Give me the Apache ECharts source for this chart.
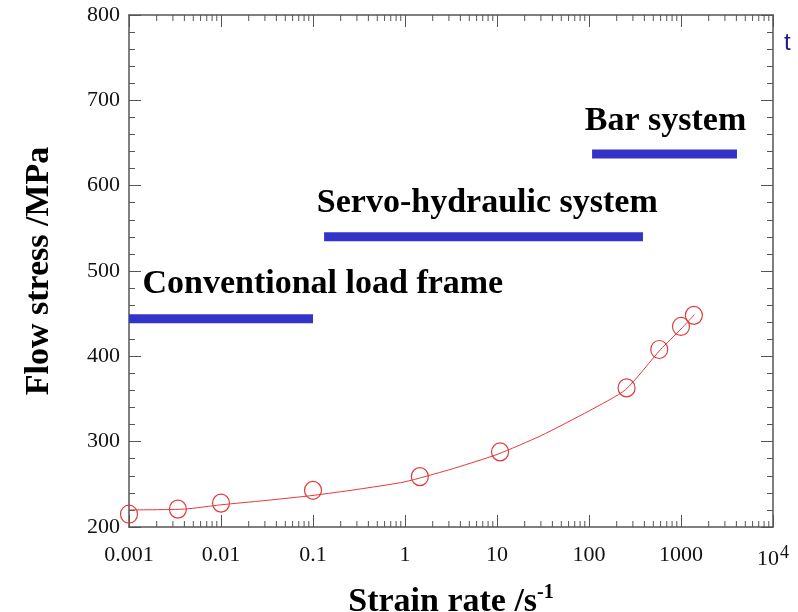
<!DOCTYPE html>
<html>
<head>
<meta charset="utf-8">
<script src="https://cdn.jsdelivr.net/npm/echarts@6/dist/echarts.min.js"></script>
<style>
  html, body { margin: 0; padding: 0; background: #fff; }
  #chart { width: 798px; height: 612px; }
</style>
</head>
<body>
<div id="chart"></div>
<script>
// measured points (strain rate /s, flow stress MPa)
var pointRates = [0.001, 0.0034, 0.01, 0.1, 1.45, 10.8, 256, 580, 1000, 1380];
var pointStress = [215, 221, 228, 243, 259, 288, 363, 408, 435, 448];

// fitted curve
var curveRates = [0.001, 0.004, 0.01, 0.03, 0.1, 0.3, 1, 3, 10, 30, 100, 250, 600, 1000, 1400];
var curveStress = [220, 221, 226, 231, 237, 244, 253, 267, 285, 307, 336, 361, 408, 432, 449];

// testing machine ranges: [from rate, to rate, stress level]
var rangeNames = ["Conventional load frame", "Servo-hydraulic system", "Bar system"];
var rangeFrom = [0.001, 0.132, 108];
var rangeTo = [0.1, 386, 4060];
var rangeLevel = [444, 540, 637];
// where each name sits (left end rate, stress)
var nameRates = [0.0014, 0.11, 90];
var nameStress = [485, 580, 676];

var xTickLabels = ["0.001", "0.01", "0.1", "1", "10", "100", "1000", "10^4"];

var lg = function (v) { return Math.log10(v); };

// log minor ticks 2..9 in each decade
var minorTicks = [];
for (var d = -3; d < 4; d++) {
    for (var k = 2; k <= 9; k++) minorTicks.push(Math.log10(k) + d);
}

var series = [];
series.push({
    type: "line",
    data: curveRates.map(function (r, i) { return [lg(r), curveStress[i]]; }),
    smooth: 0.2,
    showSymbol: false,
    lineStyle: { color: "#e8383c", width: 1 },
    z: 3
});
series.push({
    type: "scatter",
    data: pointRates.map(function (r, i) { return [lg(r), pointStress[i]]; }),
    symbol: "circle",
    symbolSize: [17, 18],
    itemStyle: { color: "rgba(0,0,0,0)", borderColor: "#e23a3a", borderWidth: 1.2, opacity: 1 },
    z: 4
});
rangeNames.forEach(function (name, i) {
    series.push({
        type: "line",
        data: [[lg(rangeFrom[i]), rangeLevel[i]], [lg(rangeTo[i]), rangeLevel[i]]],
        showSymbol: false,
        lineStyle: { color: "#3333c8", width: 9, cap: "butt" },
        z: 2
    });
});
series.push({
    type: "scatter",
    data: nameRates.map(function (r, i) { return { value: [lg(r), nameStress[i]], name: rangeNames[i] }; }),
    symbolSize: 0,
    itemStyle: { opacity: 1 },
    label: {
        show: true,
        position: "right",
        distance: 0,
        formatter: "{b}",
        fontFamily: "Liberation Serif",
        fontWeight: "bold",
        fontSize: 34,
        color: "#000"
    },
    z: 5
});
// minor ticks of the log axis (bottom and top)
series.push({
    type: "custom",
    data: minorTicks.map(function (t) { return [t]; }),
    renderItem: function (params, api) {
        var b = api.coord([api.value(0), 200]);
        var t = api.coord([api.value(0), 800]);
        var st = { stroke: "#555", lineWidth: 1 };
        return {
            type: "group",
            children: [
                { type: "line", shape: { x1: b[0], y1: b[1], x2: b[0], y2: b[1] - 6 }, style: st },
                { type: "line", shape: { x1: t[0], y1: t[1], x2: t[0], y2: t[1] + 6 }, style: st }
            ]
        };
    },
    silent: true,
    z: 1
});

var axisLine = { show: true, onZero: false, lineStyle: { color: "#555", width: 1.5 } };
var labelFont = { fontFamily: "Liberation Serif", fontSize: 22, color: "#111" };

var option = {
    backgroundColor: "#fff",
    animation: false,
    grid: { left: 129, right: 25, top: 15, bottom: 85, outerBoundsMode: "none", containLabel: false },
    xAxis: [{
        type: "value",
        min: -3, max: 4, interval: 1,
        axisLine: axisLine,
        axisTick: { show: true, inside: true, length: 12, lineStyle: { color: "#555" } },
        splitLine: { show: false },
        axisLabel: Object.assign({
            margin: 17,
            formatter: function (v) {
                var s = xTickLabels[Math.round(v) + 3];
                if (s === "10^4") return "{n|10}{sup|4}";
                return s;
            },
            rich: {
                n: { fontFamily: "Liberation Serif", fontSize: 22, color: "#111" },
                sup: { fontFamily: "Liberation Serif", fontSize: 18, color: "#111", padding: [0, 0, 12, 1] }
            }
        }, labelFont),
        name: "{t|Strain rate /s}{s|-1}",
        nameLocation: "middle",
        nameGap: 56,
        nameTextStyle: {
            rich: {
                t: { fontFamily: "Liberation Serif", fontWeight: "bold", fontSize: 34, color: "#000" },
                s: { fontFamily: "Liberation Serif", fontWeight: "bold", fontSize: 20, color: "#000", padding: [0, 0, 18, 0] }
            }
        }
    }, {
        type: "value",
        position: "top",
        min: -3, max: 4, interval: 1,
        axisLine: axisLine,
        axisTick: { show: true, inside: true, length: 12, lineStyle: { color: "#555" } },
        axisLabel: { show: false },
        splitLine: { show: false }
    }],
    yAxis: [{
        type: "value",
        min: 200, max: 800, interval: 100,
        axisLine: axisLine,
        axisTick: { show: true, inside: true, length: 12, lineStyle: { color: "#555" } },
        minorTick: { show: true, splitNumber: 5, length: 6, lineStyle: { color: "#555" } },
        splitLine: { show: false },
        axisLabel: Object.assign({ margin: 9 }, labelFont),
        name: "Flow stress /MPa",
        nameLocation: "middle",
        nameGap: 73,
        nameTextStyle: { fontFamily: "Liberation Serif", fontWeight: "bold", fontSize: 34, color: "#000" }
    }, {
        type: "value",
        position: "right",
        min: 200, max: 800, interval: 100,
        axisLine: axisLine,
        axisTick: { show: true, inside: true, length: 12, lineStyle: { color: "#555" } },
        minorTick: { show: true, splitNumber: 5, length: 6, lineStyle: { color: "#555" } },
        splitLine: { show: false },
        axisLabel: { show: false }
    }],
    graphic: [{
        type: "text",
        left: 784, top: 31,
        style: { text: "t", fontFamily: "Liberation Sans", fontSize: 24, fill: "#1c1c8a" }
    }],
    series: series
};

var chart = echarts.init(document.getElementById("chart"), null, { renderer: "canvas" });
chart.setOption(option);
</script>
</body>
</html>
